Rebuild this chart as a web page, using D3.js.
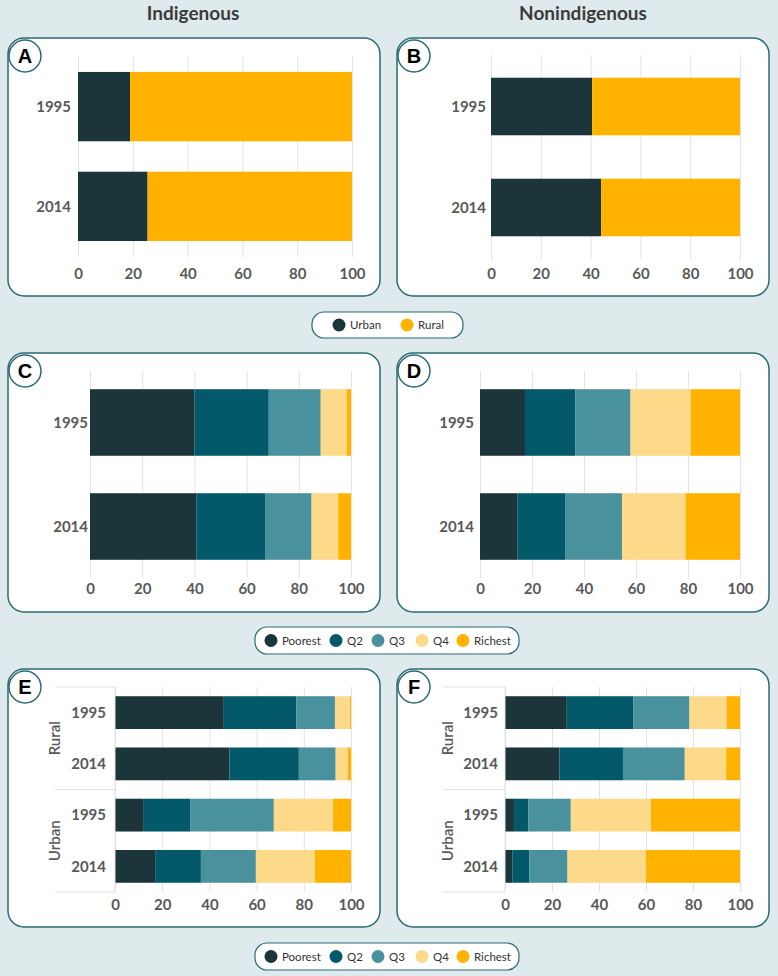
<!DOCTYPE html>
<html>
<head>
<meta charset="utf-8">
<script src="https://cdn.jsdelivr.net/npm/d3@7"></script>
<style>
  body { margin: 0; background: #dfeaed; }
  svg { display: block; }
  .tick text { font-family: Lato, "Open Sans", sans-serif; }
</style>
</head>
<body>
<div id="main"></div>
<script>
// categories
var years = ['1995', '2014'];
var areas = ['Urban', 'Rural'];
var quintiles = ['Poorest', 'Q2', 'Q3', 'Q4', 'Richest'];
var groupRows = [['Rural', '1995'], ['Rural', '2014'], ['Urban', '1995'], ['Urban', '2014']];
var xTicks = [0, 20, 40, 60, 80, 100];

// A / B : urban vs rural share, by year
var indigUrban = [19.0, 25.4];
var indigRural = [81.0, 74.6];
var nonIndigUrban = [40.6, 44.2];
var nonIndigRural = [59.4, 55.8];

// C / D : wealth quintiles, by year
var indigQ1995 = [40.0, 28.5, 19.9, 9.9, 1.7];
var indigQ2014 = [40.7, 26.6, 17.6, 10.2, 4.9];
var nonIndigQ1995 = [17.3, 19.3, 21.3, 23.1, 19.0];
var nonIndigQ2014 = [14.5, 18.2, 21.9, 24.4, 21.0];

// E / F : wealth quintiles by area and year (Rural 1995, Rural 2014, Urban 1995, Urban 2014)
var indigRural1995 = [46.1, 30.8, 16.3, 6.4, 0.4];
var indigRural2014 = [48.5, 29.4, 15.6, 5.1, 1.4];
var indigUrban1995 = [12.2, 19.8, 35.3, 25.1, 7.6];
var indigUrban2014 = [17.0, 19.4, 23.3, 25.0, 15.3];
var nonIndigRural1995 = [26.3, 28.4, 23.8, 15.8, 5.7];
var nonIndigRural2014 = [23.2, 27.0, 26.3, 17.6, 5.9];
var nonIndigUrban1995 = [3.8, 6.2, 18.0, 34.1, 37.9];
var nonIndigUrban2014 = [3.1, 7.2, 16.3, 33.4, 40.0];

var areaColors = ['#1b353b', '#ffb200'];
var quintColors = ['#1b353b', '#03596a', '#4a919e', '#fdd98a', '#ffb200'];
var borderColor = '#2b6b72';
var textGrey = '#595959';

var W = 778, H = 976;
var svg = d3.select('#main').append('svg')
  .attr('width', W).attr('height', H);

svg.append('rect').attr('width', W).attr('height', H).attr('fill', '#dfeaed');

// column titles
svg.append('text').attr('x', 193).attr('y', 20).attr('text-anchor', 'middle')
  .attr('font-family', 'Lato, sans-serif').attr('font-weight', 700).attr('font-size', 19)
  .attr('fill', '#3b3b3b').text('Indigenous');
svg.append('text').attr('x', 583).attr('y', 20).attr('text-anchor', 'middle')
  .attr('font-family', 'Lato, sans-serif').attr('font-weight', 700).attr('font-size', 19)
  .attr('fill', '#3b3b3b').text('Nonindigenous');

function buildRows(labels, keys, seriesByRow) {
  return labels.map(function(lab, i) {
    var row = { label: lab };
    keys.forEach(function(k, j) { row[k] = seriesByRow[i][j]; });
    return row;
  });
}

function drawPanel(p) {
  var g = svg.append('g');
  // panel box
  g.append('rect')
    .attr('x', p.box[0]).attr('y', p.box[1])
    .attr('width', p.box[2] - p.box[0]).attr('height', p.box[3] - p.box[1])
    .attr('rx', 16).attr('fill', '#fff')
    .attr('stroke', borderColor).attr('stroke-width', 1.5);

  var x = d3.scaleLinear().domain([0, 100]).range([p.x0, p.x1]);
  var y = d3.scaleBand().domain(p.rows.map(function(r) { return r.label; }))
    .range(p.yRange).paddingInner(p.pin).paddingOuter(p.pout);

  // gridlines
  g.append('g').attr('transform', 'translate(0,' + p.yRange[1] + ')')
    .call(d3.axisBottom(x).tickValues(xTicks).tickSize(-(p.yRange[1] - p.yRange[0])).tickFormat(''))
    .call(function(s) {
      s.select('.domain').remove();
      s.selectAll('line').attr('stroke', '#e3e3e3');
    });

  // x tick labels
  g.append('g').attr('transform', 'translate(0,' + p.tickY + ')')
    .call(d3.axisBottom(x).tickValues(xTicks).tickSize(0).tickPadding(0))
    .call(function(s) {
      s.select('.domain').remove();
      s.selectAll('text').attr('font-size', 15).attr('font-weight', 700)
        .attr('fill', textGrey).attr('dy', '0.35em');
    });

  // stacked bars
  var stack = d3.stack().keys(p.keys);
  var series = stack(p.rows);
  g.selectAll('g.series').data(series).enter().append('g')
    .attr('fill', function(d, i) { return p.colors[i]; })
    .selectAll('rect').data(function(d) { return d; }).enter().append('rect')
    .attr('x', function(d) { return x(d[0]); })
    .attr('width', function(d) { return Math.max(0, x(d[1]) - x(d[0])); })
    .attr('y', function(d) { return y(d.data.label); })
    .attr('height', y.bandwidth());

  // year labels
  g.selectAll('text.year').data(p.rows).enter().append('text')
    .attr('x', p.yearX)
    .attr('y', function(d) { return y(d.label) + y.bandwidth() / 2; })
    .attr('dy', '0.35em').attr('text-anchor', 'end')
    .attr('font-family', 'Lato, sans-serif').attr('font-weight', 700).attr('font-size', 15)
    .attr('fill', textGrey)
    .text(function(d) { return d.year; });

  // group labels for multi-level axis
  if (p.groups) {
    var top = p.yRange[0], bot = p.yRange[1], mid = (top + bot) / 2;
    [top, mid, bot].forEach(function(yy) {
      g.append('line').attr('x1', p.groupLineX).attr('x2', p.x0)
        .attr('y1', yy).attr('y2', yy).attr('stroke', '#e3e3e3');
    });
    g.append('line').attr('x1', p.x0).attr('x2', p.x0)
      .attr('y1', top).attr('y2', bot).attr('stroke', '#e3e3e3');
    p.groups.forEach(function(name, i) {
      var cy = top + (bot - top) * (i + 0.5) / p.groups.length;
      g.append('text')
        .attr('transform', 'translate(' + p.groupX + ',' + cy + ') rotate(-90)')
        .attr('dy', '0.35em').attr('text-anchor', 'middle')
        .attr('font-family', 'Lato, sans-serif').attr('font-weight', 600).attr('font-size', 15)
        .attr('fill', textGrey).text(name);
    });
  }

  // panel letter
  var cx = p.box[0] + 17, cy = p.box[1] + 18;
  g.append('circle').attr('cx', cx).attr('cy', cy).attr('r', 16)
    .attr('fill', '#fff').attr('stroke', borderColor).attr('stroke-width', 1.5);
  g.append('text').attr('x', cx).attr('y', cy).attr('dy', '0.36em')
    .attr('text-anchor', 'middle')
    .attr('font-family', '"Liberation Sans", Arial, sans-serif').attr('font-weight', 700)
    .attr('font-size', 20).attr('fill', '#000').text(p.letter);
}

function drawLegend(box, keys, colors, positions) {
  var g = svg.append('g');
  var h = box[3] - box[1];
  g.append('rect').attr('x', box[0]).attr('y', box[1])
    .attr('width', box[2] - box[0]).attr('height', h)
    .attr('rx', 12).attr('fill', '#fff')
    .attr('stroke', borderColor).attr('stroke-width', 1.2);
  var cy = box[1] + h / 2;
  keys.forEach(function(k, i) {
    g.append('circle').attr('cx', positions[i]).attr('cy', cy).attr('r', 6.5).attr('fill', colors[i]);
    g.append('text').attr('x', positions[i] + 11).attr('y', cy).attr('dy', '0.35em')
      .attr('font-family', 'Lato, sans-serif').attr('font-size', 11.5)
      .attr('fill', '#333').text(k);
  });
}

var simpleRowsA = buildRows(years, areas, [[indigUrban[0], indigRural[0]], [indigUrban[1], indigRural[1]]]);
var simpleRowsB = buildRows(years, areas, [[nonIndigUrban[0], nonIndigRural[0]], [nonIndigUrban[1], nonIndigRural[1]]]);
[simpleRowsA, simpleRowsB].forEach(function(rs) { rs.forEach(function(r) { r.year = r.label; }); });

var rowsC = buildRows(years, quintiles, [indigQ1995, indigQ2014]);
var rowsD = buildRows(years, quintiles, [nonIndigQ1995, nonIndigQ2014]);
[rowsC, rowsD].forEach(function(rs) { rs.forEach(function(r) { r.year = r.label; }); });

var groupLabels = groupRows.map(function(r) { return r[0] + ' ' + r[1]; });
var rowsE = buildRows(groupLabels, quintiles, [indigRural1995, indigRural2014, indigUrban1995, indigUrban2014]);
var rowsF = buildRows(groupLabels, quintiles, [nonIndigRural1995, nonIndigRural2014, nonIndigUrban1995, nonIndigUrban2014]);
[rowsE, rowsF].forEach(function(rs) { rs.forEach(function(r, i) { r.year = groupRows[i][1]; }); });

drawPanel({ letter: 'A', box: [8, 38, 380, 296], x0: 78, x1: 352, yRange: [56, 257],
  pin: 0.305, pout: 0.16, tickY: 274, yearX: 71, rows: simpleRowsA, keys: areas, colors: areaColors });
drawPanel({ letter: 'B', box: [397, 38, 769, 296], x0: 491, x1: 740, yRange: [55, 259],
  pin: 0.43, pout: 0.225, tickY: 274, yearX: 486, rows: simpleRowsB, keys: areas, colors: areaColors });

drawPanel({ letter: 'C', box: [8, 353, 380, 612], x0: 90, x1: 351, yRange: [371, 578],
  pin: 0.36, pout: 0.175, tickY: 589, yearX: 88, rows: rowsC, keys: quintiles, colors: quintColors });
drawPanel({ letter: 'D', box: [397, 353, 769, 612], x0: 480, x1: 740, yRange: [371, 578],
  pin: 0.36, pout: 0.175, tickY: 589, yearX: 474, rows: rowsD, keys: quintiles, colors: quintColors });

drawPanel({ letter: 'E', box: [8, 669, 380, 927], x0: 115, x1: 351, yRange: [687, 892],
  pin: 0.36, pout: 0.18, tickY: 905, yearX: 106, rows: rowsE, keys: quintiles, colors: quintColors,
  groups: ['Rural', 'Urban'], groupX: 55, groupLineX: 55 });
drawPanel({ letter: 'F', box: [397, 669, 769, 927], x0: 505, x1: 740, yRange: [687, 892],
  pin: 0.36, pout: 0.18, tickY: 905, yearX: 498, rows: rowsF, keys: quintiles, colors: quintColors,
  groups: ['Rural', 'Urban'], groupX: 448, groupLineX: 443 });

drawLegend([312, 312, 463, 338], areas, areaColors, [339, 407]);
drawLegend([255, 627, 519, 654], quintiles, quintColors, [271, 336, 378, 422, 463]);
drawLegend([255, 943, 519, 970], quintiles, quintColors, [271, 336, 378, 422, 463]);
</script>
</body>
</html>
